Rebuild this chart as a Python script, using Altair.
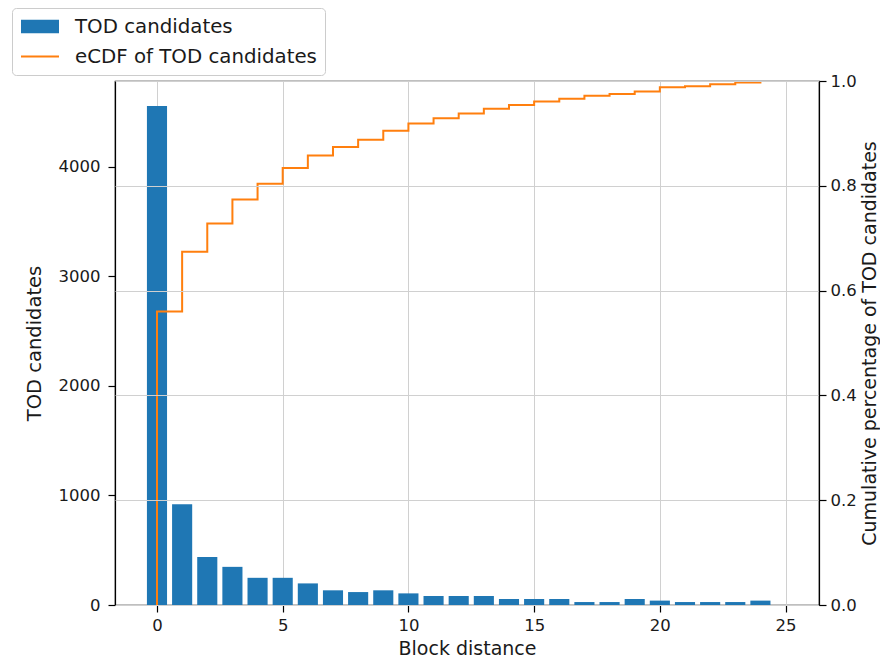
import altair as alt
import pandas as pd

# ---- data ----
distances = list(range(25))
counts = [4552, 920, 439, 348, 248, 248, 197, 134, 118, 134, 106, 82, 82, 82,
          55, 55, 55, 27, 27, 55, 40, 27, 27, 27, 40]
ecdf_x = [0] + list(range(25))
ecdf_y = [0.0, 0.560, 0.674, 0.728, 0.774, 0.804, 0.834, 0.858, 0.874, 0.888,
          0.905, 0.919, 0.929, 0.938, 0.947, 0.954, 0.961, 0.966, 0.972, 0.975,
          0.980, 0.988, 0.990, 0.994, 0.997, 1.0]
series_names = ["TOD candidates", "eCDF of TOD candidates"]
x_ticks = [0, 5, 10, 15, 20, 25]
left_ticks = [0, 1000, 2000, 3000, 4000]
right_ticks = [0.0, 0.2, 0.4, 0.6, 0.8, 1.0]

BLUE = "#1f77b4"
ORANGE = "#ff7f0e"
FONT = "DejaVu Sans"
FS_TICK = 16.5
FS_TITLE = 19.5

bars_df = pd.DataFrame({"d": distances, "count": counts, "series": series_names[0]})
ecdf_df = pd.DataFrame({"d": ecdf_x, "p": ecdf_y, "i": list(range(len(ecdf_x)))})

xscale = alt.Scale(domain=[-1.67, 26.33], nice=False, zero=False)

x_axis = alt.Axis(values=x_ticks, title="Block distance", grid=True, format="d",
                  tickSize=7, labelPadding=5, titleFontSize=19,
                  titleBaseline="alphabetic", titleY=49, titleX=352, titleAlign="center")

is_bar = "datum.value === 'TOD candidates'"

bars = alt.Chart(bars_df).transform_calculate(
    x0="datum.d - 0.4", x1="datum.d + 0.4"
).mark_rect(color=BLUE).encode(
    x=alt.X("x0:Q", scale=xscale, axis=x_axis),
    x2="x1:Q",
    y=alt.Y("count:Q", scale=alt.Scale(domain=[0, 4780], nice=False),
            axis=alt.Axis(values=left_ticks, title="TOD candidates", grid=False,
                          format="d", tickSize=7, labelPadding=8,
                          titleAngle=270, titleBaseline="alphabetic",
                          titleX=-75, titleY=262, titleAlign="center")),
    y2=alt.datum(0),
    color=alt.Color("series:N",
                    scale=alt.Scale(domain=series_names, range=[BLUE, ORANGE]),
                    legend=alt.Legend(
                        title=None, orient="none", legendX=-103, legendY=-73,
                        symbolSize=361,
                        symbolType=alt.ExprRef(expr=is_bar + " ? 'M-1,-0.7H3V0.7H-1Z' : 'M-1,0H3'"),
                        symbolStrokeColor=alt.ExprRef(expr=is_bar + " ? 'transparent' : '#ff7f0e'"),
                        symbolStrokeWidth=2, symbolOpacity=1,
                        labelOffset=34, rowPadding=8,
                        padding=8, strokeColor="#cccccc", fillColor="white",
                        cornerRadius=4, labelFont=FONT, labelFontSize=19.8,
                        labelColor="#1a1a1a", labelLimit=400)),
)

line = alt.Chart(ecdf_df).mark_line(color=ORANGE, strokeWidth=2, interpolate="step-after").encode(
    x=alt.X("d:Q", scale=xscale),
    y=alt.Y("p:Q", scale=alt.Scale(domain=[0, 1], nice=False),
            axis=alt.Axis(orient="right", values=right_ticks, format=".1f", grid=True,
                          title="Cumulative percentage of TOD candidates",
                          titleFontSize=19, titleAngle=270, titleBaseline="alphabetic",
                          titleX=56, titleY=262, titleAlign="center",
                          tickSize=7, labelPadding=4, zindex=1)),
    order="i:Q",
)

chart = alt.layer(bars, line).resolve_scale(y="independent").properties(
    width=704, height=524,
    autosize=alt.AutoSizeParams(type="none"),
    padding={"left": 107, "top": 73, "right": 61, "bottom": 53},
).configure_view(stroke="black", strokeWidth=1.2).configure_axis(
    labelFont=FONT, titleFont=FONT, labelFontSize=FS_TICK, titleFontSize=FS_TITLE,
    titleFontWeight="normal", labelColor="#1a1a1a", titleColor="#1a1a1a",
    domainColor="black", tickColor="black", domainWidth=1.2, tickWidth=1.2,
    gridColor="#d0d0d0", gridWidth=1,
)

chart.save("out.html", embed_options={"renderer": "svg", "actions": False})
